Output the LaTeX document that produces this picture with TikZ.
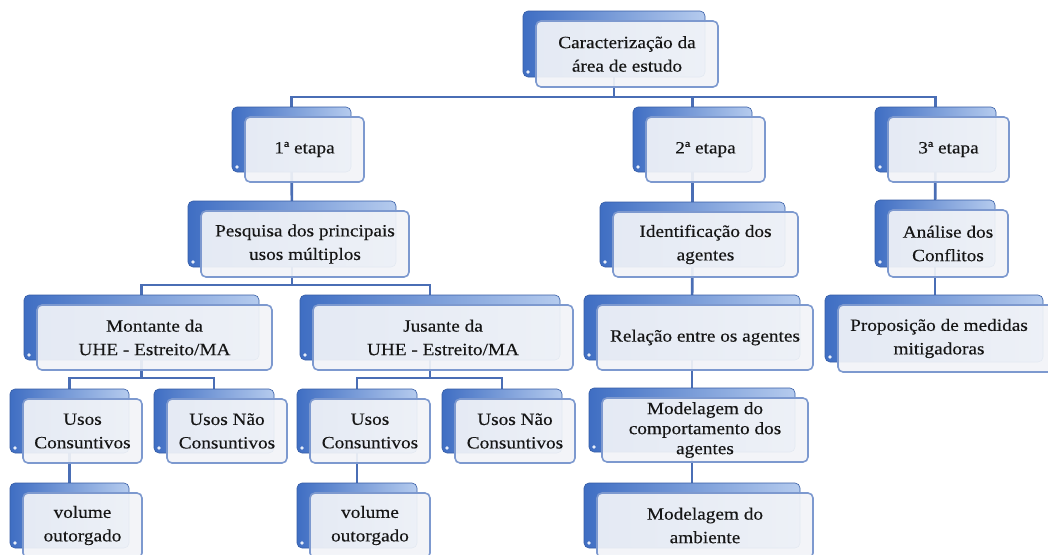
\documentclass[tikz,border=0pt]{standalone}
\usepackage{fontspec}
\setmainfont{Liberation Serif}[FakeStretch=1.12,FakeBold=0.35]
\usetikzlibrary{backgrounds}
\definecolor{backdark}{HTML}{3F6EC3}
\definecolor{backlight}{HTML}{B5CBEE}
\definecolor{frontline}{HTML}{7D99CF}
\definecolor{frontfill}{HTML}{F2F4F8}
\definecolor{connc}{HTML}{4A6EB5}
\definecolor{txt}{HTML}{161616}
\tikzset{
  backbox/.style={rectangle, rounded corners=5pt, draw=backdark!85!black, line width=0.6pt,
    left color=backdark, right color=backlight, inner sep=0pt},
  frontbox/.style={rectangle, rounded corners=5pt, draw=frontline, line width=1.6pt,
    fill=frontfill, fill opacity=0.92, text opacity=1, inner sep=0pt, align=center, text=txt,
    font=\fontsize{17.2}{23.5}\selectfont},
  dotmark/.style={fill=white!70!backlight},
  conn/.style={draw=connc, line width=2.6pt}
}
% name, x1, y1, x2, y2 (front box), text
\newcommand\mybox[7][]{%
  \node[backbox, minimum width={#5-#3}, minimum height={#6-#4}] (#2-b) at ({(#3+#5)/2-13},{(#4+#6)/2-10}) {};
  \fill[dotmark] ({#3-13+5},{#6-10-5}) circle (1.8);
  \node[frontbox, minimum width={#5-#3}, minimum height={#6-#4}, #1] (#2) at ({(#3+#5)/2},{(#4+#6)/2}) {#7};
}
\begin{document}
\begin{tikzpicture}[x=1pt,y=-1pt]
\useasboundingbox (0,0) rectangle (1048,554);
\clip (0,0) rectangle (1048,554);
\mybox{top}{536}{21}{718}{87}{Caracterização da\\área de estudo}
\mybox{e1}{245}{117}{364}{182}{1ª etapa}
\mybox{e2}{646}{117}{765}{182}{2ª etapa}
\mybox{e3}{888}{117}{1009}{182}{3ª etapa}
\mybox{pesq}{201}{211}{409}{277}{Pesquisa dos principais\\usos múltiplos}
\mybox{ident}{613}{212}{798}{277}{Identificação dos\\agentes}
\mybox{anal}{888}{210}{1008}{277}{Análise dos\\Conflitos}
\mybox{mont}{37}{305}{272}{370}{Montante da\\UHE - Estreito/MA}
\mybox{jus}{313}{305}{573}{370}{Jusante da\\UHE - Estreito/MA}
\mybox{rel}{597}{305}{813}{370}{Relação entre os agentes}
\mybox{prop}{838}{305}{1056}{372}{\hspace*{-8pt}Proposição de medidas\hspace*{8pt}\\\hspace*{-8pt}mitigadoras\hspace*{8pt}}
\mybox{uca}{23}{399}{142}{463}{Usos\\Consuntivos}
\mybox{unca}{167}{399}{287}{463}{Usos Não\\Consuntivos}
\mybox{ucb}{310}{399}{430}{463}{Usos\\Consuntivos}
\mybox{uncb}{455}{399}{575}{463}{Usos Não\\Consuntivos}
\mybox[font=\fontsize{17.2}{20}\selectfont]{mc}{602}{398}{808}{462}{Modelagem do\\comportamento dos\\agentes}
\mybox{voa}{23}{493}{142}{558}{volume\\outorgado}
\mybox{vob}{310}{493}{430}{558}{volume\\outorgado}
\mybox{ma}{597}{493}{813}{558}{Modelagem do\\ambiente}
\coordinate (bus0) at (0,97);
\coordinate (bus1) at (0,285);
\coordinate (bus2) at (0,378);
\begin{scope}[on background layer]
\fill[white] (0,0) rectangle (1048,554);
\draw[conn] (top-b.center) -- (top-b.center |- bus0) -| (e1-b.center);
\draw[conn] (top-b.center |- bus0) -| (e2-b.center);
\draw[conn] (top-b.center |- bus0) -| (e3-b.center);
\draw[conn] (e1-b.center) -- (pesq-b.center);
\draw[conn] (pesq-b.center) -- (pesq-b.center |- bus1) -| (mont-b.center);
\draw[conn] (pesq-b.center |- bus1) -| (jus-b.center);
\draw[conn] (mont-b.center) -- (mont-b.center |- bus2) -| (uca-b.center);
\draw[conn] (mont-b.center |- bus2) -| (unca-b.center);
\draw[conn] (jus-b.center) -- (jus-b.center |- bus2) -| (ucb-b.center);
\draw[conn] (jus-b.center |- bus2) -| (uncb-b.center);
\draw[conn] (uca-b.center) -- (voa-b.center);
\draw[conn] (ucb-b.center) -- (vob-b.center);
\draw[conn] (e2-b.center) -- (ident-b.center);
\draw[conn] (ident-b.center) -- (rel-b.center);
\draw[conn] (rel-b.center) -- (mc-b.center);
\draw[conn] (mc-b.center) -- (ma-b.center);
\draw[conn] (e3-b.center) -- (anal-b.center);
\draw[conn] (anal-b.center) -- (anal-b.center |- prop-b.center);
\end{scope}
\end{tikzpicture}
\end{document}
